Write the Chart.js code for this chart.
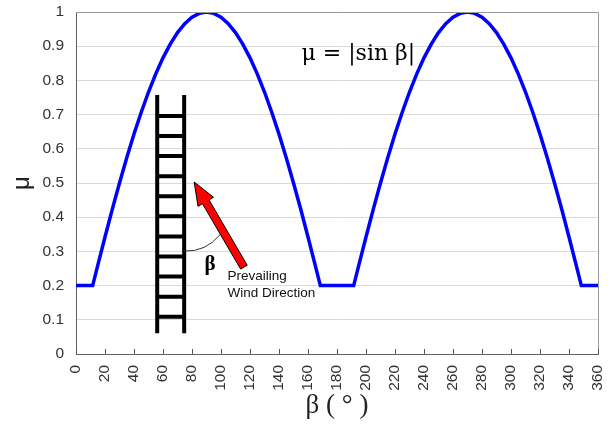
<!DOCTYPE html>
<html><head><meta charset="utf-8">
<script src="https://cdn.jsdelivr.net/npm/chart.js@4"></script>
<style>html,body{margin:0;padding:0;background:#fff}</style>
</head><body>
<canvas id="c" width="612" height="428"></canvas>
<script>
// ---- data ----
const betaDeg = [0, 5, 10, 11.5, 15, 20, 25, 30, 35, 40, 45, 50, 55, 60, 65, 70, 75, 80, 85, 90,
  95, 100, 105, 110, 115, 120, 125, 130, 135, 140, 145, 150, 155, 160, 165, 168.5,
  175, 180, 185, 191.5, 195, 200, 205, 210, 215, 220, 225, 230, 235, 240, 245, 250, 255, 260,
  265, 270, 275, 280, 285, 290, 295, 300, 305, 310, 315, 320, 325, 330, 335, 340, 345, 348.5,
  355, 360];
const muValues = [0.2, 0.2, 0.2, 0.2, 0.259, 0.342, 0.423, 0.5, 0.574, 0.643, 0.707, 0.766, 0.819, 0.866, 0.906, 0.940, 0.966, 0.985, 0.996, 1.0,
  0.996, 0.985, 0.966, 0.940, 0.906, 0.866, 0.819, 0.766, 0.707, 0.643, 0.574, 0.5, 0.423, 0.342, 0.259, 0.2,
  0.2, 0.2, 0.2, 0.2, 0.259, 0.342, 0.423, 0.5, 0.574, 0.643, 0.707, 0.766, 0.819, 0.866, 0.906, 0.940, 0.966, 0.985,
  0.996, 1.0, 0.996, 0.985, 0.966, 0.940, 0.906, 0.866, 0.819, 0.766, 0.707, 0.643, 0.574, 0.5, 0.423, 0.342, 0.259, 0.2,
  0.2, 0.2];
const xTickLabels = ['0','20','40','60','80','100','120','140','160','180','200','220','240','260','280','300','320','340','360'];
const yTickLabels = ['0','0.1','0.2','0.3','0.4','0.5','0.6','0.7','0.8','0.9','1'];
const formulaText = 'μ = |sin β|';
const angleText = 'β';
const windText = ['Prevailing', 'Wind Direction'];
const xTitle = 'β ( ° )';
const yTitle = 'μ';

// ---- decoration placement (in axis units) ----
const deco = {
  railsX: [56.0, 74.6], railTop: 0.757, railBottom: 0.061,
  rungTop: 0.696, rungStep: 0.0587, rungCount: 11,
  arrowTip: [81.5, 0.503], arrowTail: [115.8, 0.254],
  arcStart: [74.6, 0.301], arcCtrl: [89.5, 0.298], arcEnd: [99.6, 0.350],
  betaPos: [92.5, 0.262], windPos: [104.5, 0.227], formulaPos: [155.5, 0.876]
};

const decoPlugin = {
  id: 'deco',
  afterDatasetsDraw(chart) {
    const { ctx, chartArea: a, scales: { x, y } } = chart;
    const X = v => x.getPixelForValue(v), Y = v => y.getPixelForValue(v);
    ctx.save();
    // frame top/right
    ctx.strokeStyle = '#9a9a9a'; ctx.lineWidth = 1;
    ctx.beginPath();
    ctx.moveTo(a.left, Math.round(a.top) + 0.5);
    ctx.lineTo(Math.round(a.right) + 0.5, Math.round(a.top) + 0.5);
    ctx.lineTo(Math.round(a.right) + 0.5, a.bottom);
    ctx.stroke();
    // x tick marks (pointing up)
    ctx.strokeStyle = '#555'; ctx.beginPath();
    for (let i = 0; i < xTickLabels.length; i++) {
      const px = Math.round(X(Number(xTickLabels[i]))) + 0.5;
      ctx.moveTo(px, a.bottom); ctx.lineTo(px, a.bottom - 5);
    }
    ctx.stroke();
    // ladder
    ctx.strokeStyle = '#000'; ctx.lineWidth = 4; ctx.lineCap = 'butt';
    ctx.beginPath();
    deco.railsX.forEach(rx => { ctx.moveTo(X(rx), Y(deco.railTop)); ctx.lineTo(X(rx), Y(deco.railBottom)); });
    for (let i = 0; i < deco.rungCount; i++) {
      const ry = Y(deco.rungTop - i * deco.rungStep);
      ctx.moveTo(X(deco.railsX[0]), ry); ctx.lineTo(X(deco.railsX[1]), ry);
    }
    ctx.stroke();
    // arc
    ctx.strokeStyle = '#333'; ctx.lineWidth = 1;
    ctx.beginPath();
    ctx.moveTo(X(deco.arcStart[0]), Y(deco.arcStart[1]));
    ctx.quadraticCurveTo(X(deco.arcCtrl[0]), Y(deco.arcCtrl[1]), X(deco.arcEnd[0]), Y(deco.arcEnd[1]));
    ctx.stroke();
    // arrow
    const tx = X(deco.arrowTip[0]), ty = Y(deco.arrowTip[1]);
    const sx = X(deco.arrowTail[0]), sy = Y(deco.arrowTail[1]);
    const len = Math.hypot(tx - sx, ty - sy);
    const ux = (tx - sx) / len, uy = (ty - sy) / len, nx = -uy, ny = ux;
    const hl = 23, hw = 9, sw = 3.8;
    const bx = tx - ux * hl, by = ty - uy * hl;
    ctx.beginPath();
    ctx.moveTo(sx + nx * sw, sy + ny * sw);
    ctx.lineTo(bx + nx * sw, by + ny * sw);
    ctx.lineTo(bx + nx * hw, by + ny * hw);
    ctx.lineTo(tx, ty);
    ctx.lineTo(bx - nx * hw, by - ny * hw);
    ctx.lineTo(bx - nx * sw, by - ny * sw);
    ctx.lineTo(sx - nx * sw, sy - ny * sw);
    ctx.closePath();
    ctx.fillStyle = '#ff0000'; ctx.fill();
    ctx.strokeStyle = '#000'; ctx.lineWidth = 1; ctx.stroke();
    // texts
    ctx.fillStyle = '#000';
    ctx.textBaseline = 'middle'; ctx.textAlign = 'center';
    ctx.font = 'bold 21px "Liberation Serif"';
    ctx.fillText(angleText, X(deco.betaPos[0]), Y(deco.betaPos[1]));
    ctx.textAlign = 'left';
    ctx.font = '13.5px "Liberation Sans"';
    ctx.fillStyle = '#111';
    ctx.fillText(windText[0], X(deco.windPos[0]), Y(deco.windPos[1]));
    ctx.fillText(windText[1], X(deco.windPos[0]), Y(deco.windPos[1]) + 17);
    ctx.font = '22px "DejaVu Serif"';
    ctx.fillStyle = '#000';
    ctx.fillText(formulaText, X(deco.formulaPos[0]), Y(deco.formulaPos[1]));
    ctx.restore();
  }
};

new Chart(document.getElementById('c'), {
  type: 'scatter',
  data: {
    datasets: [{
      data: betaDeg.map((b, i) => ({ x: b, y: muValues[i] })),
      showLine: true, borderColor: '#0000ff', borderWidth: 3.5,
      pointRadius: 0, tension: 0, fill: false
    }]
  },
  options: {
    responsive: false, animation: false, devicePixelRatio: 1,
    layout: { padding: { top: 12, right: 14, left: 0, bottom: 0 } },
    plugins: { legend: { display: false }, tooltip: { enabled: false } },
    scales: {
      x: {
        type: 'linear', min: 0, max: 360, offset: false,
        afterFit(s) { s.height = 74; s.paddingLeft = 0; s.paddingRight = 0; },
        grid: { display: false, drawTicks: false },
        border: { display: true, color: '#606060', width: 1 },
        ticks: {
          stepSize: 20, minRotation: 90, maxRotation: 90, padding: 11,
          color: '#333', font: { family: '"Liberation Sans"', size: 15.5 },
          callback: (v, i) => xTickLabels[i]
        },
        title: { display: true, text: xTitle, color: '#222', padding: { top: 0, bottom: 6 },
          font: { family: '"Liberation Serif"', size: 27 } }
      },
      y: {
        min: 0, max: 1,
        afterFit(s) { s.width = 76; s.paddingTop = 0; s.paddingBottom = 0; },
        grid: { color: '#d9d9d9', drawTicks: false, lineWidth: 1 },
        border: { display: true, color: '#606060', width: 1 },
        ticks: {
          stepSize: 0.1, padding: 12, color: '#333',
          font: { family: '"Liberation Sans"', size: 15.5 },
          callback: (v, i) => yTickLabels[i]
        },
        title: { display: true, text: yTitle, color: '#222', padding: { top: 8, bottom: 0 },
          font: { family: '"Liberation Sans"', size: 24 } }
      }
    }
  },
  plugins: [decoPlugin]
});
</script>
</body></html>
